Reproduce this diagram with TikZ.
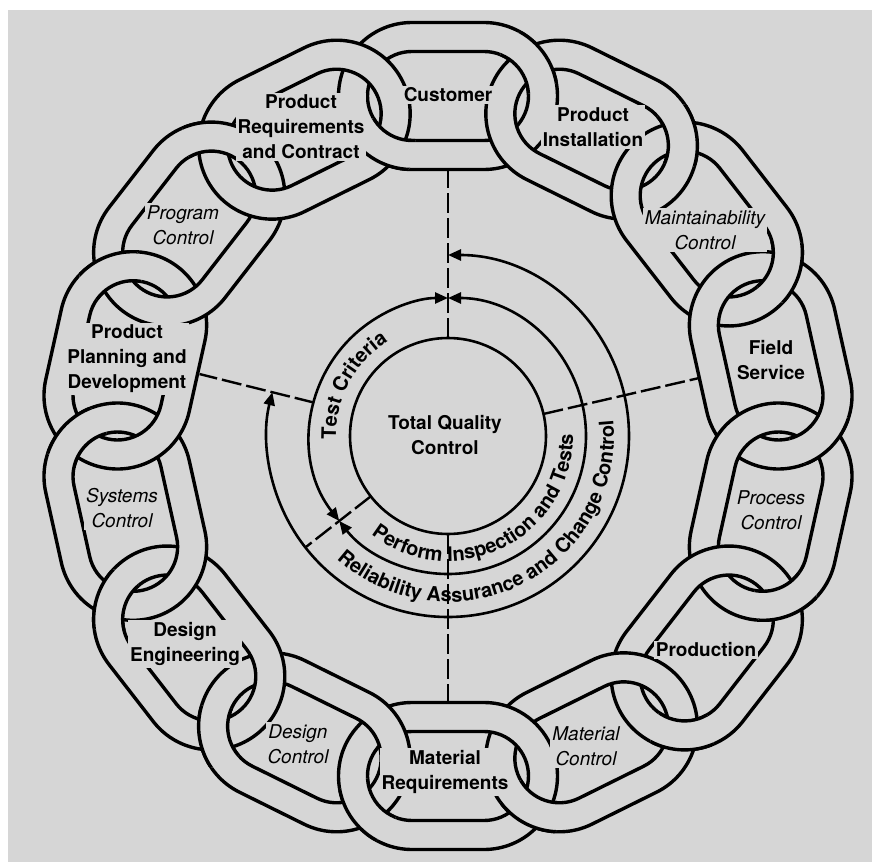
\documentclass[tikz,border=0pt]{standalone}
\usepackage{fontspec}
\setmainfont{TeX Gyre Heros}
\usetikzlibrary{arrows.meta,decorations.text}
\definecolor{bgc}{RGB}{214,214,214}
\newcommand\arcfont{\fontsize{10}{11}\selectfont\bfseries}
\tikzset{
  chainlink/.pic={
    \filldraw[fill=bgc, draw=black, line width=1.7pt, even odd rule]
      (-36,-73.5) -- (36,-73.5) arc[start angle=-90,end angle=90,radius=73.5] -- (-36,73.5) arc[start angle=90,end angle=270,radius=73.5] -- cycle
      (-36,-44.5) -- (36,-44.5) arc[start angle=-90,end angle=90,radius=44.5] -- (-36,44.5) arc[start angle=90,end angle=270,radius=44.5] -- cycle;
  },
  ring/.style={line width=1.3pt},
  dline/.style={line width=1.2pt, dash pattern=on 10pt off 2.5pt},
  boldlab/.style={fill=bgc, inner sep=1pt, align=center, font=\fontsize{9.5}{12.5}\selectfont\bfseries},
  itlab/.style={fill=bgc, inner sep=1pt, align=center, font=\fontsize{9.5}{12.5}\selectfont\itshape},
}
\begin{document}
\begin{tikzpicture}[x=0.5pt,y=0.5pt,>={Triangle[length=6.5pt,width=5.5pt]}]
\useasboundingbox (-448,-426) rectangle (424,436);
\fill[white] (-448,-426) rectangle (424,436);
\fill[bgc] (-440,-426) rectangle (424,426);

% chain links
\foreach \k in {0,...,13}{
  \pgfmathsetmacro\thk{90-\k*360/14}
  \pgfmathsetmacro\cx{331*cos(\thk)}
  \pgfmathsetmacro\cy{340*sin(\thk)}
  \pgfmathsetmacro\rotk{atan2(-340*cos(\thk),331*sin(\thk))}
  \pic[rotate=\rotk] at (\cx,\cy) {chainlink};
}
% interlocking crossings
\foreach \k in {0,...,13}{
  \pgfmathsetmacro\tha{90-\k*360/14}
  \pgfmathsetmacro\thb{90-(\k+1)*360/14}
  \pgfmathsetmacro\ax{331*cos(\tha)}
  \pgfmathsetmacro\ay{340*sin(\tha)}
  \pgfmathsetmacro\bx{331*cos(\thb)}
  \pgfmathsetmacro\by{340*sin(\thb)}
  \pgfmathsetmacro\rota{atan2(-340*cos(\tha),331*sin(\tha))}
  \pgfmathsetmacro\rotb{atan2(-340*cos(\thb),331*sin(\thb))}
  \pgfmathsetmacro\pxa{\ax+36*cos(\rota)}
  \pgfmathsetmacro\pya{\ay+36*sin(\rota)}
  \pgfmathsetmacro\pxb{\bx-36*cos(\rotb)}
  \pgfmathsetmacro\pyb{\by-36*sin(\rotb)}
  \pgfmathsetmacro\ddx{\pxb-\pxa}
  \pgfmathsetmacro\ddy{\pyb-\pya}
  \pgfmathsetmacro\dlen{sqrt(\ddx*\ddx+\ddy*\ddy)}
  \pgfmathsetmacro\offs{sqrt(59*59-\dlen*\dlen/4)}
  \pgfmathsetmacro\mx{(\pxa+\pxb)/2}
  \pgfmathsetmacro\my{(\pya+\pyb)/2}
  \ifnum\k<13
    \pgfmathsetmacro\qx{\mx-\offs*\ddy/\dlen}
    \pgfmathsetmacro\qy{\my+\offs*\ddx/\dlen}
    \begin{scope}
      \clip (\qx,\qy) circle[radius=32];
      \pic[rotate=\rota] at (\ax,\ay) {chainlink};
    \end{scope}
  \else
    \pgfmathsetmacro\qx{\mx+\offs*\ddy/\dlen}
    \pgfmathsetmacro\qy{\my-\offs*\ddx/\dlen}
    \begin{scope}
      \clip (\qx,\qy) circle[radius=32];
      \pic[rotate=\rotb] at (\bx,\by) {chainlink};
    \end{scope}
  \fi
}

% dashed radial lines
\draw[dline] (90:98) -- (90:266);
\draw[dline] (-90:98) -- (-90:265);
\draw[dline] (13:98) -- (13:257);
\draw[dline] (166:138) -- (166:256);
\draw[dline] (218:98) -- (218:181);

% circles and arrows
\draw[ring] (0,0) circle[radius=98];
\draw[ring,<->] (218:138) arc[start angle=218,end angle=90,radius=138];
\draw[ring,<->] (90:138) arc[start angle=90,end angle=-142,radius=138];
\draw[ring,<->] (90:181) arc[start angle=90,end angle=-194,radius=181];

% texts on arcs
\path[decorate,decoration={text along path,text align=center,text={|\arcfont|Test Criteria}}]
  (200:112) arc[start angle=200,end angle=104,radius=112];
\path[decorate,decoration={text along path,text align=center,text={|\arcfont|Perform Inspection and Tests}}]
  (224:125) arc[start angle=224,end angle=369,radius=125];
\path[decorate,decoration={text along path,text align=center,text={|\arcfont|Reliability Assurance and Change Control}}]
  (222:166) arc[start angle=222,end angle=371.5,radius=166];

\node[boldlab,fill=none] (tqc) at (-3,1) {Total Quality\\Control};

% labels
\node[boldlab] (cust) at (0,341) {Customer};
\node[boldlab] (pinst) at (145,309) {Product\\Installation};
\node[itlab] (maint) at (257,206) {Maintainability\\Control};
\node[boldlab] (field) at (323,76) {Field\\Service};
\node[itlab] (proc) at (323,-74) {Process\\Control};
\node[boldlab] (prod) at (258,-214) {Production};
\node[itlab] (matc) at (138,-310) {Material\\Control};
\node[boldlab] (matr) at (-3,-336) {Material\\Requirements};
\node[itlab] (desc) at (-150,-308) {Design\\Control};
\node[boldlab] (dese) at (-263,-208) {Design\\Engineering};
\node[itlab] (sysc) at (-326,-72) {Systems\\Control};
\node[boldlab] (ppd) at (-321,77) {Product\\Planning and\\Development};
\node[itlab] (progc) at (-265,211) {Program\\Control};
\node[boldlab] (preq) at (-147,309) {Product\\Requirements\\and Contract};
\end{tikzpicture}
\end{document}
